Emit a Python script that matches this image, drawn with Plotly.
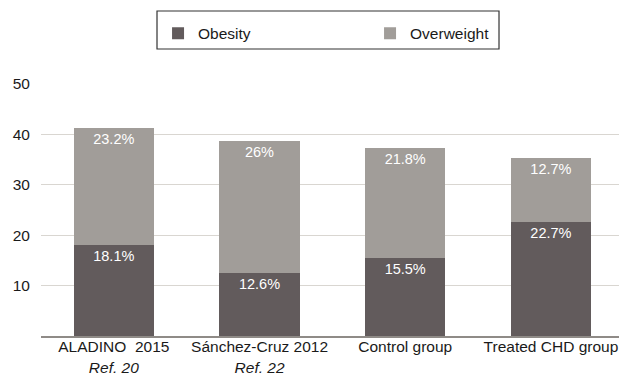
import plotly.graph_objects as go

# Prevalence (%) by study group
groups = ["ALADINO \u00a02015<br><i>Ref. 20</i>",
          "Sánchez-Cruz 2012<br><i>Ref. 22</i>",
          "Control group",
          "Treated CHD group"]
obesity = [18.1, 12.6, 15.5, 22.7]
overweight = [23.2, 26, 21.8, 12.7]
y_ticks = [10, 20, 30, 40, 50]

dark = "#625b5c"
light = "#a19d99"
font_family = "Liberation Sans, Arial, Helvetica, sans-serif"

fig = go.Figure()
fig.add_trace(go.Bar(
    x=list(range(len(groups))), y=obesity, name="Obesity",
    marker=dict(color=dark, line=dict(width=0)),
    texttemplate="%{y}%", textposition="inside", insidetextanchor="end",
    textfont=dict(color="white", size=14.5, family=font_family),
))
fig.add_trace(go.Bar(
    x=list(range(len(groups))), y=overweight, name="Overweight",
    marker=dict(color=light, line=dict(width=0)),
    texttemplate="%{y}%", textposition="inside", insidetextanchor="end",
    textfont=dict(color="white", size=14.5, family=font_family),
))

# Framed legend box
fig.add_shape(type="rect", xref="paper", yref="paper",
              x0=0.2007, x1=0.7924, y0=1.1389, y1=1.2897,
              line=dict(color="#333333", width=1.2), fillcolor="rgba(0,0,0,0)")

fig.update_layout(
    width=619, height=375,
    margin=dict(l=41, r=0, t=84, b=39, autoexpand=False),
    barmode="stack", bargap=0.45,
    paper_bgcolor="white", plot_bgcolor="white",
    font=dict(family=font_family, size=15.5, color="#1a1a1a"),
    showlegend=True,
    legend=dict(orientation="h", traceorder="normal",
                x=0.2025, xanchor="left", y=1.200, yanchor="middle",
                entrywidth=167, entrywidthmode="pixels",
                bgcolor="rgba(0,0,0,0)", borderwidth=0,
                font=dict(size=15.5, color="#1a1a1a", family=font_family)),
    xaxis=dict(
        tickmode="array", tickvals=list(range(len(groups))), ticktext=groups,
        range=[-0.5, 3.467], showgrid=False, zeroline=False, automargin=False,
        showline=True, linecolor="#8f8b87", linewidth=1.5, ticks="",
        ticklabelstandoff=-4,
        tickfont=dict(size=15.5, color="#1a1a1a"),
    ),
    yaxis=dict(
        range=[0, 50], tickvals=y_ticks, showgrid=True, automargin=False,
        gridcolor="#d9d6d1", gridwidth=1.2, zeroline=False, showline=False,
        ticks="", ticklabelstandoff=10,
        tickfont=dict(size=15.5, color="#1a1a1a"),
    ),
)

fig.write_html("out.html")
